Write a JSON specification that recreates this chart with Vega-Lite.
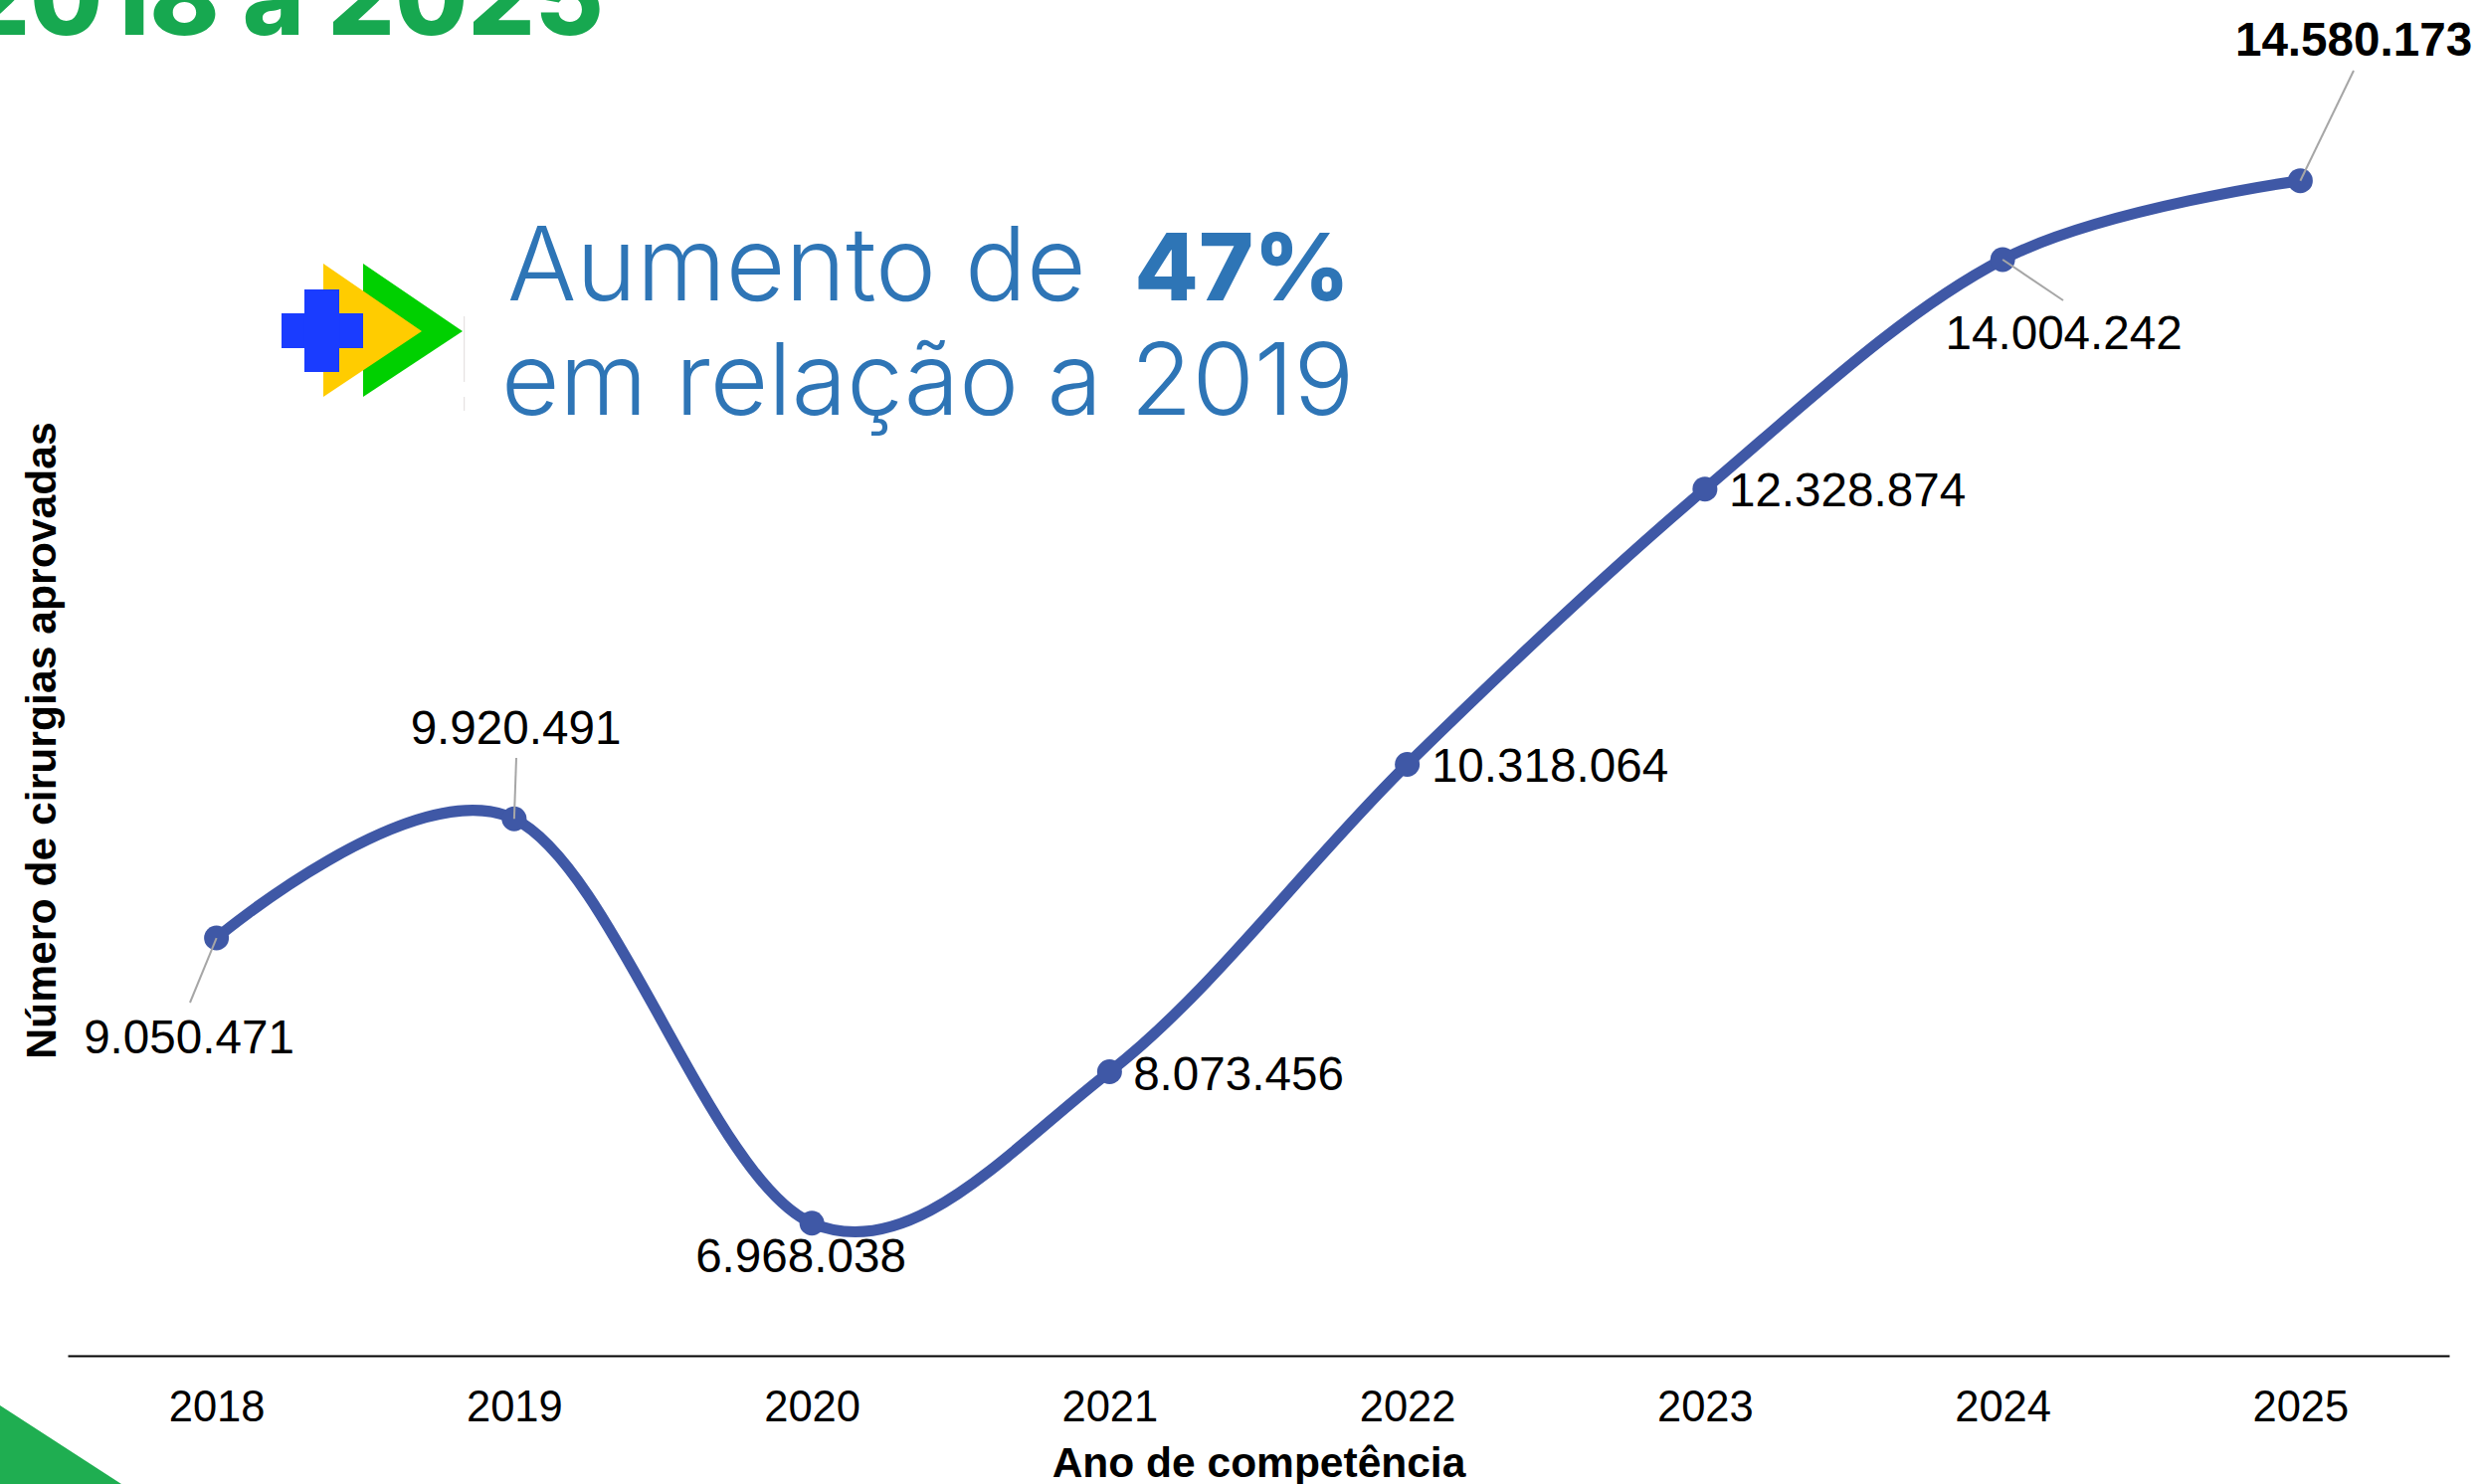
{
"$schema":"https://vega.github.io/schema/vega-lite/v6.json",
"width":2394,"height":1363,
"autosize":{"type":"none"},
"padding":{"left":68,"top":0,"right":32,"bottom":129},
"background":"white",
"config":{"view":{"stroke":null}},
"datasets":{
"series":[
{"ano":2018,"cirurgias":9050471,"rotulo":"9.050.471","ano_rotulo":2017.9077,"valor_rotulo":8210000},
{"ano":2019,"cirurgias":9920491,"rotulo":"9.920.491","ano_rotulo":2019.0054,"valor_rotulo":10465000},
{"ano":2020,"cirurgias":6968038,"rotulo":"6.968.038","ano_rotulo":2019.9628,"valor_rotulo":6608000},
{"ano":2021,"cirurgias":8073456,"rotulo":"8.073.456","ano_rotulo":2021.4332,"valor_rotulo":7938000},
{"ano":2022,"cirurgias":10318064,"rotulo":"10.318.064","ano_rotulo":2022.4791,"valor_rotulo":10189000},
{"ano":2023,"cirurgias":12328874,"rotulo":"12.328.874","ano_rotulo":2023.4783,"valor_rotulo":12201000},
{"ano":2024,"cirurgias":14004242,"rotulo":"14.004.242","ano_rotulo":2024.2054,"valor_rotulo":13352000},
{"ano":2025,"cirurgias":14580173,"rotulo":"14.580.173","ano_rotulo":2025.1792,"valor_rotulo":15494000}
],
"leaders":[
{"ano":2018,"cirurgias":9050471,"a2":2017.911,"v2":8578507},
{"ano":2019,"cirurgias":9920491,"a2":2019.0071,"v2":10365303},
{"ano":2024,"cirurgias":14004242,"a2":2024.2034,"v2":13706467},
{"ano":2025,"cirurgias":14580173,"a2":2025.1792,"v2":15384313}
]
},
"layer":[
{"data":{"values":[{"a":2017.2728,"v":5636830,"v0":5063021},{"a":2017.6805,"v":5063021,"v0":5063021}]},
 "mark":{"type":"area","color":"#1fae51","clip":false},
 "encoding":{"x":{"field":"a","type":"quantitative","scale":{"domain":[2017.5,2025.5],"nice":false,"zero":false},
   "axis":{"values":[2018,2019,2020,2021,2022,2023,2024,2025],"format":"d","title":"Ano de competência","grid":false,"ticks":false,"domainColor":"#000000","domainWidth":2,"labelFont":"Liberation Sans","labelFontSize":43.5,"labelColor":"#000000","labelPadding":31,"labelOverlap":false,"labelFlush":false,"labelBound":false,"titleFont":"Liberation Sans","titleFontSize":42.5,"titleFontWeight":"bold","titleColor":"#000000","titleY":121,"titleBaseline":"alphabetic"}},
  "y":{"field":"v","type":"quantitative","scale":{"domain":[6000000,15900000],"nice":false,"zero":false},
   "axis":{"title":"Número de cirurgias aprovadas","grid":false,"ticks":false,"labels":false,"domain":false,"titleFont":"Liberation Sans","titleFontSize":42.7,"titleFontWeight":"bold","titleColor":"#000000","titleX":-13,"titleY":744,"titleBaseline":"alphabetic","titleAngle":-90}},
  "y2":{"field":"v0"}}},
{"data":{"values":[{"a":2018.4925,"v":13975213,"v0":13001918},{"a":2018.8266,"v":13481302,"v0":13481302}]},
 "mark":{"type":"area","color":"#00d000"},
 "encoding":{"x":{"field":"a","type":"quantitative"},"y":{"field":"v","type":"quantitative"},"y2":{"field":"v0"}}},
{"data":{"values":[{"a":2018.3588,"v":13975213,"v0":13001918},{"a":2018.6896,"v":13481302,"v0":13481302}]},
 "mark":{"type":"area","color":"#ffcc00"},
 "encoding":{"x":{"field":"a","type":"quantitative"},"y":{"field":"v","type":"quantitative"},"y2":{"field":"v0"}}},
{"data":{"values":[{"a":2018.2185,"a2":2018.4925,"v":13612043,"v2":13357824},{"a":2018.2953,"a2":2018.4123,"v":13786365,"v2":13183503}]},
 "mark":{"type":"rect","color":"#1a3cff"},
 "encoding":{"x":{"field":"a","type":"quantitative"},"x2":{"field":"a2"},"y":{"field":"v","type":"quantitative"},"y2":{"field":"v2"}}},
{"data":{"values":[{"a":2018.8323,"v":13590253,"v2":13110869},{"a":2018.8323,"v":13001918,"v2":12900230}]},
 "mark":{"type":"rule","color":"#e0dcdc","strokeWidth":1},
 "encoding":{"x":{"field":"a","type":"quantitative"},"y":{"field":"v","type":"quantitative"},"y2":{"field":"v2"}}},
{"data":{"name":"series"},
 "mark":{"type":"line","color":"#3f58a6","strokeWidth":11,"interpolate":"cardinal","tension":0},
 "encoding":{"x":{"field":"ano","type":"quantitative"},"y":{"field":"cirurgias","type":"quantitative"}}},
{"data":{"name":"series"},
 "mark":{"type":"point","filled":true,"opacity":1,"color":"#3f58a6","size":625},
 "encoding":{"x":{"field":"ano","type":"quantitative"},"y":{"field":"cirurgias","type":"quantitative"}}},
{"data":{"name":"leaders"},
 "mark":{"type":"rule","color":"#a6a6a6","strokeWidth":2},
 "encoding":{"x":{"field":"ano","type":"quantitative"},"y":{"field":"cirurgias","type":"quantitative"},"x2":{"field":"a2"},"y2":{"field":"v2"}}},
{"data":{"name":"series"},
 "transform":[{"filter":"datum.ano !== 2025"}],
 "mark":{"type":"text","font":"Liberation Sans","fontSize":47.6,"color":"#000000","align":"center","baseline":"alphabetic"},
 "encoding":{"x":{"field":"ano_rotulo","type":"quantitative"},"y":{"field":"valor_rotulo","type":"quantitative"},"text":{"field":"rotulo"}}},
{"data":{"name":"series"},
 "transform":[{"filter":"datum.ano === 2025"}],
 "mark":{"type":"text","font":"Liberation Sans","fontSize":47.6,"fontWeight":"bold","color":"#000000","align":"center","baseline":"alphabetic"},
 "encoding":{"x":{"field":"ano_rotulo","type":"quantitative"},"y":{"field":"valor_rotulo","type":"quantitative"},"text":{"field":"rotulo"}}},
{"data":{"values":[{"a":2019.3011,"v":15645795,"t":"2018 a 2025"}]},
 "mark":{"type":"text","font":"Inter","fontSize":106,"fontWeight":800,"color":"#17a850","align":"right","baseline":"alphabetic"},
 "encoding":{"x":{"field":"a","type":"quantitative"},"y":{"field":"v","type":"quantitative"},"text":{"field":"t"}}},
{"data":{"values":[{"a":2018.977,"v":13706467,"t":"Aumento de"}]},
 "mark":{"type":"text","font":"Inter","fontSize":103,"fontWeight":300,"color":"#2e75b6","align":"left","baseline":"alphabetic"},
 "encoding":{"x":{"field":"a","type":"quantitative"},"y":{"field":"v","type":"quantitative"},"text":{"field":"t"}}},
{"data":{"values":[{"a":2018.957,"v":12871176,"t":"em relação a 2019"}]},
 "mark":{"type":"text","font":"Inter","fontSize":101,"fontWeight":300,"color":"#2e75b6","align":"left","baseline":"alphabetic"},
 "encoding":{"x":{"field":"a","type":"quantitative"},"y":{"field":"v","type":"quantitative"},"text":{"field":"t"}}},
{"data":{"values":[{"a":2021.083,"v":13706467,"t":"47%"}]},
 "mark":{"type":"text","font":"Inter","fontSize":94,"fontWeight":800,"color":"#2e75b6","align":"left","baseline":"alphabetic"},
 "encoding":{"x":{"field":"a","type":"quantitative"},"y":{"field":"v","type":"quantitative"},"text":{"field":"t"}}}
]
}
